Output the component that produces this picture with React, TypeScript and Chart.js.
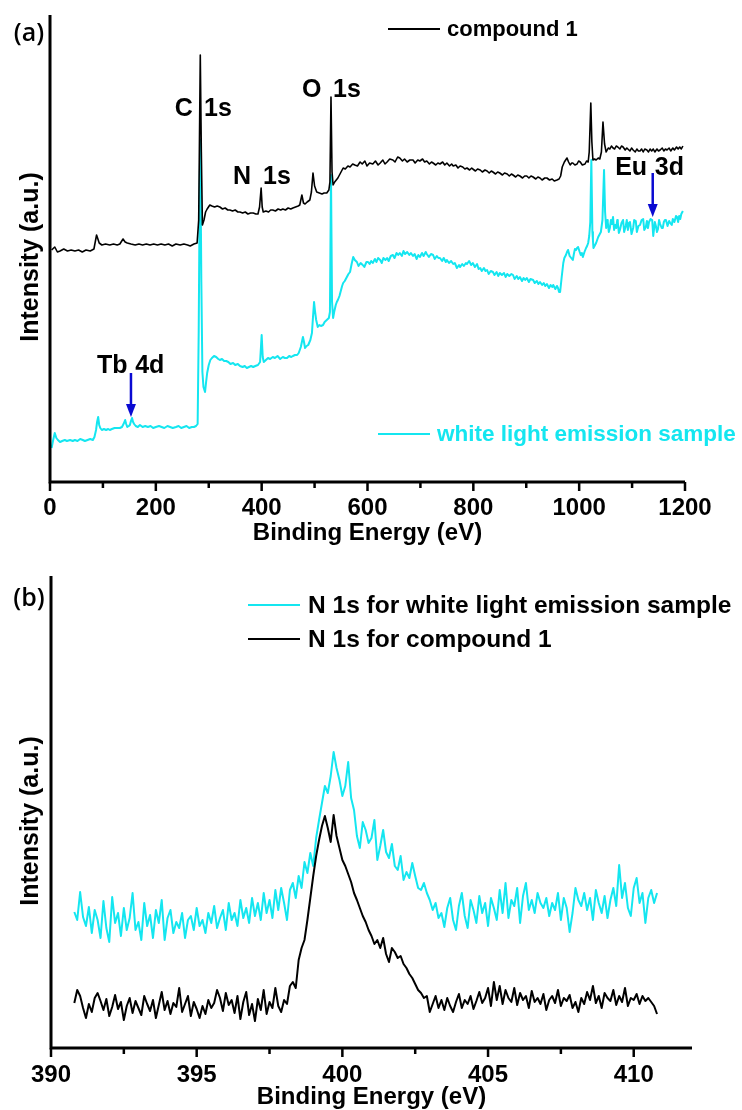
import React, { useEffect, useRef } from 'react';
import { Chart, registerables } from 'chart.js';

Chart.register(...registerables);

const FONT = '"Liberation Sans", Arial, Helvetica, sans-serif';
const BLACK = '#000000';
const CYAN = '#14e6f0';
const BLUE = '#0a0ad2';

// ---------------- (a) XPS survey ----------------
const SURVEY_TICKS = [0, 200, 400, 600, 800, 1000, 1200];
const SURVEY_MINOR = [100, 300, 500, 700, 900, 1100];

// [binding energy (eV), intensity (a.u.)]
const SURVEY_COMPOUND1: [number, number][] = [
  [3, 232], [9, 235], [14, 230], [19, 231], [26, 233], [33, 231], [40, 232], [47, 231], [54, 232], [61, 230],
  [68, 232], [76, 231], [83, 233], [88, 247], [93, 239], [98, 237], [105, 238], [113, 237], [120, 238], [127, 237],
  [132, 238], [138, 243], [142, 240], [146, 239], [153, 238], [161, 237], [168, 238], [175, 237], [182, 238], [189, 237],
  [196, 238], [203, 237], [210, 238], [217, 237], [224, 238], [231, 236], [238, 238], [246, 237], [253, 238], [260, 237],
  [265, 236], [272, 238], [278, 239], [281, 262], [284, 427], [286, 330], [288, 257], [291, 262], [294, 270], [297, 273],
  [302, 277], [306, 276], [311, 275], [316, 276], [321, 275], [326, 273], [331, 274], [336, 272], [340, 272], [345, 271],
  [350, 272], [355, 270], [359, 270], [364, 269], [369, 270], [374, 268], [379, 269], [384, 269], [389, 268], [393, 268],
  [396, 275], [399, 294], [401, 275], [403, 270], [408, 271], [413, 270], [417, 272], [421, 272], [426, 271], [431, 273],
  [436, 272], [440, 273], [445, 272], [450, 274], [455, 273], [459, 274], [464, 275], [469, 276], [472, 277], [476, 287],
  [479, 279], [482, 278], [486, 280], [491, 282], [494, 290], [497, 309], [500, 296], [504, 290], [509, 289], [514, 288],
  [518, 289], [523, 289], [527, 292], [529, 300], [531, 385], [533, 310], [535, 297], [538, 300], [541, 302], [544, 304],
  [549, 309], [554, 314], [558, 313], [563, 316], [567, 315], [572, 318], [576, 317], [581, 316], [586, 320], [590, 318],
  [595, 321], [599, 316], [604, 319], [610, 318], [615, 321], [620, 317], [624, 319], [629, 322], [633, 318], [637, 320],
  [642, 323], [648, 322], [652, 320], [657, 325], [661, 324], [666, 321], [670, 323], [675, 320], [680, 322], [686, 322],
  [690, 319], [695, 322], [699, 321], [704, 323], [708, 320], [712, 321], [717, 318], [721, 320], [724, 319], [729, 317],
  [733, 319], [737, 318], [742, 320], [746, 317], [750, 319], [755, 316], [759, 318], [762, 316], [767, 317], [771, 314],
  [775, 316], [780, 315], [784, 313], [788, 314], [793, 312], [797, 314], [799, 313], [804, 311], [808, 313], [813, 312],
  [817, 310], [822, 312], [826, 311], [830, 309], [834, 311], [837, 310], [842, 308], [846, 310], [850, 309], [855, 307],
  [859, 309], [864, 308], [868, 306], [872, 308], [875, 307], [880, 305], [884, 307], [888, 306], [893, 304], [897, 306],
  [901, 306], [905, 304], [909, 306], [913, 305], [918, 303], [922, 305], [926, 304], [930, 302], [935, 304], [939, 304],
  [944, 302], [949, 303], [953, 301], [958, 302], [962, 303], [965, 306], [968, 315], [972, 320], [977, 324], [980, 320],
  [983, 317], [986, 319], [988, 319], [992, 317], [996, 318], [999, 321], [1002, 320], [1006, 317], [1011, 318], [1014, 321],
  [1017, 320], [1019, 330], [1022, 379], [1024, 340], [1026, 322], [1029, 323], [1032, 322], [1036, 324], [1039, 323], [1042, 330],
  [1045, 360], [1048, 338], [1051, 330], [1055, 334], [1058, 333], [1061, 336], [1064, 334], [1067, 333], [1070, 336], [1073, 335],
  [1077, 333], [1080, 336], [1083, 335], [1087, 332], [1090, 334], [1092, 333], [1096, 331], [1099, 334], [1102, 332], [1106, 330],
  [1109, 333], [1112, 331], [1115, 331], [1118, 333], [1121, 330], [1124, 333], [1128, 332], [1131, 330], [1134, 333], [1137, 331],
  [1140, 333], [1143, 330], [1147, 333], [1150, 331], [1153, 332], [1157, 334], [1160, 331], [1163, 333], [1166, 332], [1170, 334],
  [1173, 331], [1177, 334], [1180, 332], [1184, 335], [1187, 333], [1190, 335], [1193, 333], [1196, 336],
];

const SURVEY_WHITE: [number, number][] = [
  [3, 34], [6, 42], [9, 49], [12, 44], [15, 42], [19, 40], [23, 41], [28, 42], [32, 41], [38, 42],
  [43, 41], [47, 42], [52, 41], [57, 43], [62, 42], [66, 41], [71, 42], [76, 43], [81, 42], [84, 45],
  [87, 52], [89, 60], [91, 65], [93, 57], [95, 54], [98, 52], [102, 53], [106, 52], [110, 53], [113, 52],
  [117, 53], [122, 54], [127, 54], [132, 54], [136, 55], [139, 58], [142, 62], [144, 58], [146, 55], [149, 56],
  [151, 57], [153, 61], [155, 64], [157, 60], [159, 58], [162, 56], [166, 55], [170, 57], [175, 55], [180, 56],
  [185, 55], [190, 56], [195, 54], [200, 55], [206, 56], [211, 55], [216, 54], [222, 56], [227, 55], [232, 54],
  [238, 55], [243, 56], [248, 54], [253, 55], [258, 56], [263, 54], [268, 55], [272, 55], [276, 56], [279, 58],
  [281, 150], [283, 300], [284, 342], [286, 200], [288, 110], [290, 95], [293, 90], [295, 100], [297, 109], [300, 117],
  [303, 122], [306, 124], [310, 126], [314, 125], [318, 123], [321, 122], [325, 123], [329, 121], [333, 121], [337, 120],
  [341, 118], [346, 119], [350, 117], [355, 118], [359, 116], [364, 115], [368, 116], [372, 114], [376, 115], [380, 116],
  [384, 115], [388, 116], [393, 117], [397, 120], [400, 147], [402, 125], [404, 120], [408, 122], [412, 124], [416, 123],
  [421, 125], [425, 124], [430, 126], [435, 123], [440, 125], [444, 124], [448, 124], [452, 126], [456, 125], [459, 126],
  [463, 127], [467, 127], [470, 129], [474, 135], [476, 140], [478, 145], [480, 140], [482, 134], [485, 136], [488, 137],
  [492, 142], [495, 149], [497, 165], [499, 180], [501, 170], [503, 162], [506, 155], [509, 157], [512, 156], [516, 157],
  [519, 160], [523, 162], [525, 163], [527, 164], [529, 170], [531, 307], [533, 180], [535, 164], [537, 170], [540, 177],
  [542, 180], [544, 182], [547, 186], [550, 192], [552, 196], [554, 199], [557, 201], [561, 205], [564, 208], [567, 210],
  [570, 218], [573, 225], [576, 222], [580, 220], [583, 216], [587, 219], [591, 217], [594, 215], [598, 220], [601, 220],
  [604, 218], [607, 221], [610, 219], [614, 223], [617, 220], [620, 224], [624, 222], [627, 219], [630, 224], [634, 222],
  [637, 224], [640, 221], [644, 226], [648, 227], [651, 224], [655, 229], [658, 227], [661, 229], [665, 226], [668, 231],
  [671, 228], [675, 230], [679, 227], [682, 229], [686, 226], [689, 228], [693, 223], [696, 227], [699, 225], [703, 229],
  [706, 226], [710, 230], [712, 228], [716, 225], [720, 228], [724, 227], [727, 223], [731, 226], [734, 224], [737, 224],
  [741, 221], [744, 224], [748, 220], [750, 222], [754, 219], [758, 221], [762, 218], [765, 219], [769, 214], [773, 217],
  [775, 215], [779, 218], [782, 216], [786, 219], [788, 218], [792, 221], [796, 217], [799, 219], [803, 215], [807, 218],
  [810, 213], [813, 214], [816, 211], [820, 214], [823, 211], [826, 212], [829, 208], [833, 211], [837, 210], [840, 207],
  [844, 210], [847, 206], [850, 209], [854, 207], [858, 209], [861, 205], [864, 208], [868, 206], [872, 208], [875, 207],
  [878, 203], [882, 206], [885, 203], [888, 205], [892, 201], [895, 204], [898, 202], [901, 204], [905, 200], [908, 203],
  [913, 202], [916, 199], [920, 201], [923, 198], [926, 200], [930, 197], [933, 199], [936, 196], [939, 198], [943, 194],
  [946, 197], [949, 195], [951, 197], [955, 193], [958, 196], [960, 194], [962, 190], [964, 190], [967, 205], [970, 219],
  [972, 224], [975, 227], [977, 230], [979, 232], [982, 226], [985, 224], [988, 222], [990, 228], [992, 233], [994, 232],
  [996, 234], [998, 235], [1001, 230], [1003, 227], [1005, 229], [1007, 225], [1010, 230], [1013, 234], [1015, 236], [1017, 239],
  [1019, 246], [1021, 260], [1023, 322], [1025, 250], [1026, 242], [1027, 234], [1030, 237], [1032, 239], [1034, 242], [1036, 245],
  [1039, 248], [1041, 250], [1044, 262], [1047, 312], [1049, 270], [1051, 254], [1053, 262], [1054, 260], [1056, 250], [1058, 254],
  [1060, 262], [1062, 258], [1064, 265], [1066, 252], [1068, 257], [1070, 254], [1072, 262], [1073, 260], [1075, 249], [1077, 252],
  [1080, 259], [1083, 262], [1085, 250], [1088, 256], [1090, 262], [1092, 252], [1094, 259], [1096, 260], [1099, 248], [1102, 254],
  [1104, 262], [1107, 261], [1109, 250], [1112, 256], [1115, 257], [1118, 262], [1121, 263], [1123, 252], [1126, 255], [1128, 261],
  [1130, 254], [1132, 260], [1135, 263], [1138, 262], [1140, 246], [1143, 260], [1145, 256], [1147, 250], [1149, 253], [1151, 262],
  [1153, 258], [1156, 254], [1158, 254], [1160, 260], [1162, 262], [1164, 262], [1167, 256], [1170, 261], [1172, 259], [1175, 257],
  [1177, 263], [1180, 260], [1183, 266], [1185, 265], [1187, 260], [1189, 266], [1191, 263], [1193, 268], [1196, 271],
];

// ---------------- (b) N 1s high resolution ----------------
const N1S_TICKS = [390, 395, 400, 405, 410];
const N1S_MINOR = [392.5, 397.5, 402.5, 407.5];
const N1S_EV_START = 390.8;
const N1S_EV_STEP = 0.1;

const N1S_WHITE = [
  136, 128, 156, 131, 122, 141, 115, 138, 128, 110,
  147, 120, 106, 151, 125, 135, 112, 140, 118, 130,
  155, 118, 126, 108, 145, 122, 133, 110, 138, 125,
  148, 108, 130, 138, 115, 126, 120, 135, 110, 128,
  132, 118, 140, 122, 128, 115, 135, 125, 142, 120,
  130, 138, 118, 145, 128, 135, 122, 148, 130, 140,
  125, 150, 132, 145, 128, 155, 135, 148, 130, 158,
  138, 160, 145, 128, 158, 165,
  150, 172, 160, 186, 175, 195, 182, 210, 228, 245,
  262, 255, 272, 296, 280, 268, 252, 262, 286, 250,
  238, 212, 200, 226, 218, 205, 210, 228, 188, 202,
  218, 196, 190, 204, 182, 178, 192, 168, 176, 170,
  185, 172, 160, 158, 165, 155, 148, 138, 145, 130,
  135, 121,
  140, 150, 128, 118, 142, 155, 132, 120, 148, 138,
  125, 152, 135, 145, 122, 150, 140, 128, 158, 135,
  165, 130, 148, 142, 160, 125, 152, 165, 138, 148,
  135, 155, 145, 140, 150, 132, 145, 138, 155, 128,
  150, 140, 116, 135, 160, 148, 142, 155, 138, 150,
  128, 158, 145, 135, 152, 130, 148, 160, 142, 183,
  150, 165, 140, 132, 160, 170, 145, 155, 125, 150,
  158, 145, 155,
];

const N1S_COMPOUND1 = [
  45, 58, 52, 40, 30, 44, 36, 50, 55, 47,
  38, 49, 32, 41, 53, 39, 46, 28, 42, 50,
  35, 47, 40, 33, 52, 44, 37, 48, 30, 43,
  56, 38, 47, 34, 45, 41, 60, 36, 44, 52,
  32, 46, 39, 30, 42, 34, 48, 40, 45, 58,
  50, 37, 55, 43, 48, 35, 52, 29, 46, 56,
  33, 44, 27, 49, 38, 58, 34, 46, 40, 60,
  42, 36, 48, 44,
  62, 66, 60, 88, 100, 108, 128, 150, 172, 192,
  208, 222, 232, 220, 206, 233, 212, 200, 188, 182,
  174, 166, 155, 148, 140, 132, 126, 118, 112, 104,
  108, 100, 110, 94, 86, 100, 96, 90, 92, 84,
  80, 74, 70, 64, 58, 55, 50, 52, 36,
  44, 52, 40, 48, 38, 50, 42, 36, 46, 54,
  40, 48, 44, 52, 39, 47, 56, 45, 50, 60,
  42, 66, 48, 62, 44, 58, 50, 46, 60, 43,
  55, 48, 52, 40, 57, 46, 50, 44, 54, 38,
  48, 52, 45, 58, 42, 50, 47, 53, 40, 46,
  36, 50, 44, 56, 48, 62, 45, 52, 40, 55,
  50, 47, 58, 43, 52, 46, 60, 42, 50, 48,
  54, 44, 52, 47, 50, 46, 42, 34,
];

type Note = { text: string; x: number; y: number; align: CanvasTextAlign };
type Arrow = { x: number; from: number; to: number };
type LegendItem = { color: string; textColor: string; text: string; x1: number; x2: number; y: number; tx: number; ty: number; size: number };
type Decor = {
  id: string;
  label: string; labelPos: [number, number];
  ticks: number[]; minor: number[];
  tickDy: number; titleDy: number;
  xTitle: string; yTitle: string; yTitlePos: [number, number];
  legend: LegendItem[]; notes: Note[]; arrows: Arrow[];
};

function makeDecor(cfg: Decor) {
  return {
    id: cfg.id,
    afterDraw(chart: any) {
      const ctx: CanvasRenderingContext2D = chart.ctx;
      const a = chart.chartArea;
      const xs = chart.scales.x;
      const ys = chart.scales.y;
      ctx.save();
      // axes
      ctx.strokeStyle = BLACK;
      ctx.lineWidth = 3;
      ctx.beginPath();
      ctx.moveTo(a.left, a.top);
      ctx.lineTo(a.left, a.bottom + 1.5);
      ctx.moveTo(a.left - 1.5, a.bottom);
      ctx.lineTo(a.right, a.bottom);
      ctx.stroke();
      // ticks
      ctx.lineWidth = 2.5;
      ctx.beginPath();
      cfg.ticks.forEach((v) => {
        const p = xs.getPixelForValue(v);
        ctx.moveTo(p, a.bottom);
        ctx.lineTo(p, a.bottom + 9);
      });
      cfg.minor.forEach((v) => {
        const p = xs.getPixelForValue(v);
        ctx.moveTo(p, a.bottom);
        ctx.lineTo(p, a.bottom + 6);
      });
      ctx.stroke();
      // tick labels + x title
      ctx.fillStyle = BLACK;
      ctx.font = `bold 24px ${FONT}`;
      ctx.textAlign = 'center';
      ctx.textBaseline = 'alphabetic';
      cfg.ticks.forEach((v) => ctx.fillText(String(v), xs.getPixelForValue(v), a.bottom + cfg.tickDy));
      ctx.fillText(cfg.xTitle, (a.left + a.right) / 2, a.bottom + cfg.titleDy);
      // y title
      ctx.save();
      ctx.translate(cfg.yTitlePos[0], cfg.yTitlePos[1]);
      ctx.rotate(-Math.PI / 2);
      ctx.font = `bold 25px ${FONT}`;
      ctx.textBaseline = 'middle';
      ctx.fillText(cfg.yTitle, 0, 0);
      ctx.restore();
      // panel label
      ctx.font = `600 25px "Open Sans", ${FONT}`;
      ctx.textAlign = 'center';
      ctx.textBaseline = 'alphabetic';
      ctx.fillText(cfg.label, cfg.labelPos[0], cfg.labelPos[1]);
      // legend
      cfg.legend.forEach((l) => {
        ctx.strokeStyle = l.color;
        ctx.lineWidth = 2;
        ctx.beginPath();
        ctx.moveTo(l.x1, l.y);
        ctx.lineTo(l.x2, l.y);
        ctx.stroke();
        ctx.fillStyle = l.textColor;
        ctx.font = `bold ${l.size}px ${FONT}`;
        ctx.textAlign = 'left';
        ctx.fillText(l.text, l.tx, l.ty);
      });
      // annotations
      ctx.fillStyle = BLACK;
      ctx.font = `bold 25px ${FONT}`;
      cfg.notes.forEach((n) => {
        ctx.textAlign = n.align;
        ctx.fillText(n.text, xs.getPixelForValue(n.x), ys.getPixelForValue(n.y));
      });
      // arrows
      cfg.arrows.forEach((ar) => {
        const px = xs.getPixelForValue(ar.x);
        const p1 = ys.getPixelForValue(ar.from);
        const p2 = ys.getPixelForValue(ar.to);
        ctx.strokeStyle = BLUE;
        ctx.fillStyle = BLUE;
        ctx.lineWidth = 2.5;
        ctx.beginPath();
        ctx.moveTo(px, p1);
        ctx.lineTo(px, p2 - 10);
        ctx.stroke();
        ctx.beginPath();
        ctx.moveTo(px - 5, p2 - 13);
        ctx.lineTo(px + 5, p2 - 13);
        ctx.lineTo(px, p2);
        ctx.closePath();
        ctx.fill();
      });
      ctx.restore();
    },
  };
}

const DECOR_A: Decor = {
  id: 'decorA',
  label: '(a)', labelPos: [29, 41],
  ticks: SURVEY_TICKS, minor: SURVEY_MINOR,
  tickDy: 33, titleDy: 58,
  xTitle: 'Binding Energy (eV)', yTitle: 'Intensity (a.u.)', yTitlePos: [31, 257],
  legend: [
    { color: BLACK, textColor: BLACK, text: 'compound 1', x1: 388, x2: 440, y: 29, tx: 447, ty: 36, size: 22 },
    { color: CYAN, textColor: CYAN, text: 'white light emission sample', x1: 378, x2: 430, y: 434, tx: 437, ty: 441, size: 22.5 },
  ],
  notes: [
    { text: 'C', x: 270, y: 366, align: 'right' },
    { text: '1s', x: 291, y: 366, align: 'left' },
    { text: 'N', x: 346, y: 298, align: 'left' },
    { text: '1s', x: 402.5, y: 298, align: 'left' },
    { text: 'O', x: 476, y: 385, align: 'left' },
    { text: '1s', x: 535, y: 385, align: 'left' },
    { text: 'Tb', x: 89, y: 109, align: 'left' },
    { text: '4d', x: 161, y: 109, align: 'left' },
    { text: 'Eu', x: 1068, y: 307, align: 'left' },
    { text: '3d', x: 1143, y: 307, align: 'left' },
  ],
  arrows: [
    { x: 153, from: 109, to: 65 },
    { x: 1139, from: 309, to: 265 },
  ],
};

const DECOR_B: Decor = {
  id: 'decorB',
  label: '(b)', labelPos: [29, 51],
  ticks: N1S_TICKS, minor: N1S_MINOR,
  tickDy: 34, titleDy: 56,
  xTitle: 'Binding Energy (eV)', yTitle: 'Intensity (a.u.)', yTitlePos: [31, 266],
  legend: [
    { color: CYAN, textColor: BLACK, text: 'N 1s for white light emission sample', x1: 248, x2: 300, y: 50, tx: 308, ty: 58, size: 24.5 },
    { color: BLACK, textColor: BLACK, text: 'N 1s for compound 1', x1: 248, x2: 300, y: 84, tx: 308, ty: 92, size: 24.5 },
  ],
  notes: [],
  arrows: [],
};

function lineDs(label: string, data: { x: number; y: number }[], color: string, width: number) {
  return {
    label,
    data,
    borderColor: color,
    backgroundColor: color,
    borderWidth: width,
    pointRadius: 0,
    pointHoverRadius: 0,
    tension: 0,
    fill: false,
    borderJoinStyle: 'round' as const,
  };
}

function baseOptions(xmin: number, xmax: number, ymax: number, padding: any) {
  return {
    responsive: false,
    animation: false as const,
    devicePixelRatio: 1,
    layout: { padding },
    plugins: { legend: { display: false }, tooltip: { enabled: false }, title: { display: false } },
    events: [] as any[],
    scales: {
      x: { type: 'linear' as const, min: xmin, max: xmax, display: false },
      y: { type: 'linear' as const, min: 0, max: ymax, display: false },
    },
  };
}

function SurveyPanel() {
  const ref = useRef<HTMLCanvasElement>(null);
  useEffect(() => {
    const chart = new Chart(ref.current as HTMLCanvasElement, {
      type: 'line',
      data: {
        datasets: [
          lineDs('compound 1', SURVEY_COMPOUND1.map(([x, y]) => ({ x, y })), BLACK, 1.6),
          lineDs('white light emission sample', SURVEY_WHITE.map(([x, y]) => ({ x, y })), CYAN, 2),
        ],
      },
      options: baseOptions(0, 1200, 467, { left: 50, right: 57, top: 15, bottom: 73 }) as any,
      plugins: [makeDecor(DECOR_A)],
    });
    return () => chart.destroy();
  }, []);
  return <canvas ref={ref} width={742} height={555} style={{ position: 'absolute', left: 0, top: 0, width: 742, height: 555 }} />;
}

function N1sPanel() {
  const ref = useRef<HTMLCanvasElement>(null);
  useEffect(() => {
    const toPts = (arr: number[]) => arr.map((y, i) => ({ x: N1S_EV_START + i * N1S_EV_STEP, y }));
    const chart = new Chart(ref.current as HTMLCanvasElement, {
      type: 'line',
      data: {
        datasets: [
          lineDs('N 1s for compound 1', toPts(N1S_COMPOUND1), BLACK, 2),
          lineDs('N 1s for white light emission sample', toPts(N1S_WHITE), CYAN, 2),
        ],
      },
      options: baseOptions(390, 412, 472, { left: 51, right: 50, top: 21, bottom: 62 }) as any,
      plugins: [makeDecor(DECOR_B)],
    });
    return () => chart.destroy();
  }, []);
  return <canvas ref={ref} width={742} height={555} style={{ position: 'absolute', left: 0, top: 555, width: 742, height: 555 }} />;
}

export default function App() {
  return (
    <div style={{ position: 'absolute', left: 0, top: 0, width: 742, height: 1110, background: '#ffffff', overflow: 'hidden' }}>
      <SurveyPanel />
      <N1sPanel />
    </div>
  );
}
